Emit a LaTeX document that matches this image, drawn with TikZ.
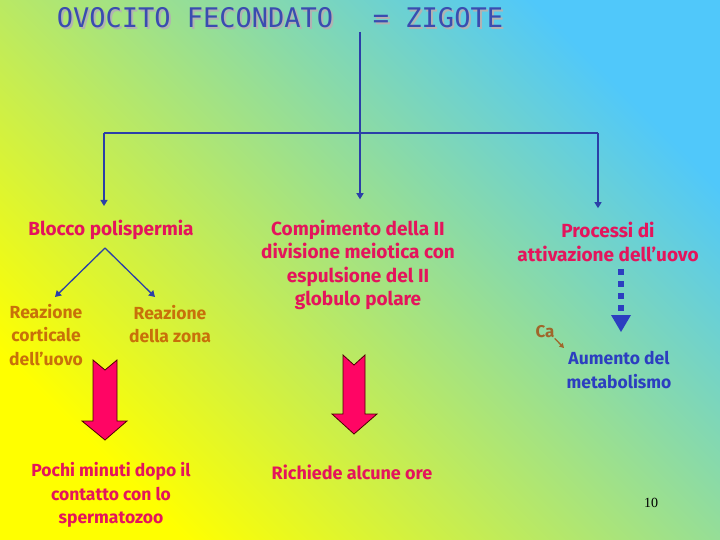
\documentclass[tikz,border=0pt]{standalone}
\usepackage{fontspec}
\setmainfont{Fira Sans}
\newfontfamily\pagefont{Liberation Serif}
\newfontfamily\titlefont{DejaVu Sans Mono}
\usetikzlibrary{arrows.meta}

\definecolor{linkblue}{RGB}{43,63,168}
\definecolor{titleblue}{RGB}{58,76,176}
\definecolor{hotpink}{RGB}{228,20,92}
\definecolor{arrowpink}{RGB}{255,5,100}
\definecolor{ochre}{RGB}{200,112,10}
\definecolor{deepblue}{RGB}{44,62,192}
\definecolor{cabrown}{RGB}{160,102,42}
\definecolor{skyblue}{RGB}{80,200,250}
\definecolor{seagreen}{RGB}{168,226,196}

\tikzset{
  label/.style={align=center, inner sep=0pt, font=\bfseries\fontsize{17.5}{23.5}\selectfont},
  biglabel/.style={label, font=\bfseries\fontsize{19}{23.5}\selectfont},
  pinklabel/.style={label, text=hotpink},
  orangelabel/.style={label, text=ochre},
  titletext/.style={text=titleblue, font=\titlefont\fontsize{27}{30}\selectfont},
  link/.style={draw=linkblue, line width=1.3pt},
  linktip/.style={link, -{Triangle[length=6pt,width=7pt]}},
  blockarrow/.style={fill=arrowpink, draw=black!70!red, line width=0.8pt, line join=miter},
}

\begin{document}
\begin{tikzpicture}[x=1pt,y=-1pt]
  % background
  \shade[bottom color=yellow, middle color=seagreen, top color=skyblue, shading angle=-45]
    (0,0) rectangle (720,540);
  \useasboundingbox (0,0) rectangle (720,540);

  % Title (with its light shadow)
  \node[titletext, text=black!30] at (197,20) {OVOCITO FECONDATO};
  \node[titletext] (ovocito) at (195,18) {OVOCITO FECONDATO};
  \node[titletext, text=black!30] at (440,20) {= ZIGOTE};
  \node[titletext] (zigote) at (438,18) {= ZIGOTE};

  % Three processes
  \node[biglabel, text=hotpink] (blocco) at (111,230) {Blocco polispermia};
  \node[biglabel, text=hotpink] (compimento) at (358,265) {Compimento della II\\divisione meiotica con\\espulsione del II\\globulo polare};
  \node[biglabel, text=hotpink] (processi) at (608,242) {Processi di\\attivazione dell'uovo};

  % Tree of lines
  \coordinate (stem) at (360,32);
  \coordinate (hub) at (360,133);
  \coordinate (hubL) at (104,133);
  \coordinate (hubR) at (598,133);
  \draw[link] (stem) -- (hub);
  \draw[link] (hubL) -- (hubR);
  \draw[linktip, shorten >=14pt] (hubL) -- (blocco.north -| hubL);
  \draw[linktip, shorten >=20.5pt] (hub) -- (compimento.north -| hub);
  \draw[linktip, shorten >=14pt] (hubR) -- (processi.north -| hubR);

  % Blocco polispermia
  \node[orangelabel] (corticale) at (46,335) {Reazione\\corticale\\dell'uovo};
  \node[orangelabel] (zona) at (170,324) {Reazione\\della zona};
  \coordinate (fork) at (105,248);
  \coordinate (forkL) at (55,297);
  \coordinate (forkR) at (155,297);
  \draw[linktip] (fork) -- (forkL);
  \draw[linktip] (fork) -- (forkR);

  % Block arrows
  \draw[blockarrow] (93,360) -- (105,370) -- (117,360) -- (117,421) -- (127,421)
    -- (105,440) -- (82,421) -- (93,421) -- cycle;
  \draw[blockarrow] (343,355) -- (354,365) -- (365,355) -- (365,414) -- (377,414)
    -- (354,434) -- (332,414) -- (343,414) -- cycle;

  \node[pinklabel] (pochi) at (111,495) {Pochi minuti dopo il\\contatto con lo\\spermatozoo};
  \node[pinklabel, font=\bfseries\fontsize{18}{23.5}\selectfont] (richiede) at (352,472) {Richiede alcune ore};

  % Activation
  \foreach \y in {269,281,293,305}
    \fill[deepblue] (618,\y) rectangle (624,\y+6);
  \fill[deepblue] (611,315) -- (631,315) -- (621,332) -- cycle;

  \node[text=cabrown, inner sep=0pt, font=\bfseries\fontsize{17}{18}\selectfont] (ca) at (545,332) {Ca};
  \coordinate (caend) at (564,348);
  \draw[draw=cabrown, line width=1.3pt, -{Triangle[length=4.5pt,width=5pt]}] (ca.south east) -- (caend);
  \node[label, text=deepblue] (aumento) at (619,370) {Aumento del\\metabolismo};

  % page number
  \node[font=\pagefont\fontsize{14}{16}\selectfont] (pagenum) at (651,503) {10};
\end{tikzpicture}
\end{document}
